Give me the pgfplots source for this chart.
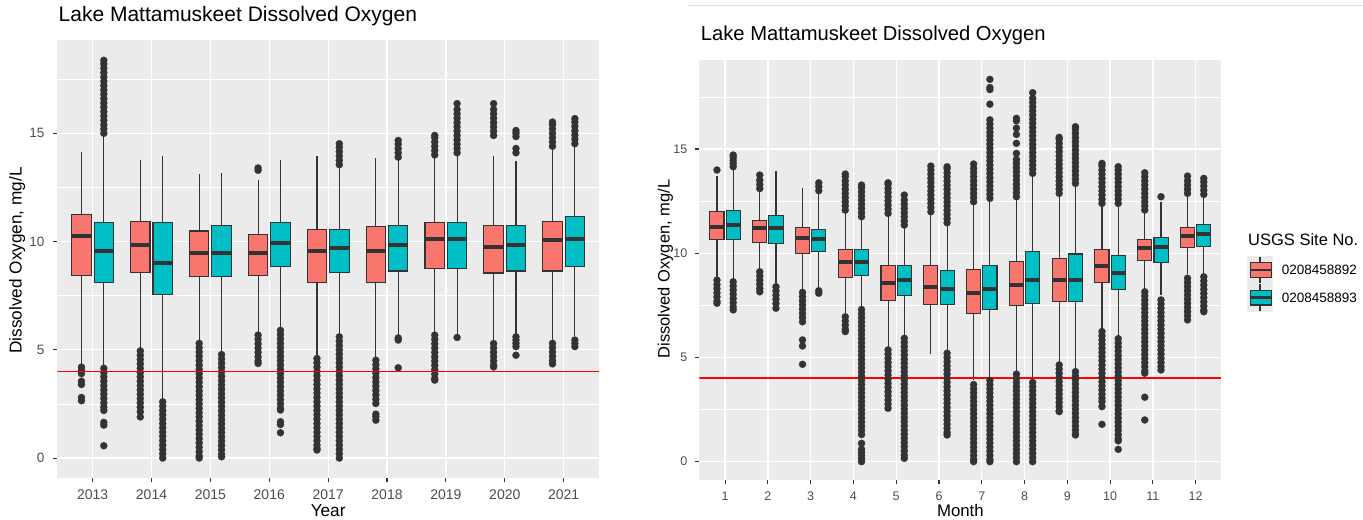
\documentclass[border=0pt]{standalone}
\usepackage{pgfplots}
\pgfplotsset{compat=1.18}
\usepgfplotslibrary{statistics}
\usepackage{fontspec}
\setmainfont{Liberation Sans}
\definecolor{cred}{HTML}{F8766D}
\definecolor{cteal}{HTML}{00BFC4}
\definecolor{cline}{HTML}{FF0000}
\definecolor{gtwenty}{HTML}{333333}
\definecolor{gthirty}{HTML}{4D4D4D}
\definecolor{gbg}{HTML}{EBEBEB}
\definecolor{gline}{HTML}{E2E2E2}
\newcommand{\fsz}[1]{\fontsize{#1}{#1}\selectfont}
\pgfplotsset{
  panel/.style={scale only axis, axis background/.style={fill=gbg}, axis line style={draw=none},
    xmajorgrids, ymajorgrids, yminorgrids,
    major grid style={white,line width=1.3bp}, minor grid style={white,line width=0.6bp},
    ytick={0,5,10,15}, minor ytick={2.5,7.5,12.5,17.5},
    tick align=outside, tick pos=left, major tick length=4.5bp, minor tick length=0pt,
    tick style={gtwenty,line width=1.1bp},
    /pgf/number format/assume math mode=true},
  bp/.style={draw=gtwenty, line width=1.1bp, mark=*, mark size=3.6bp,
    mark options={draw=gtwenty, fill=gtwenty, line width=0.1bp},
    boxplot/draw direction=y,
    boxplot/box extend=0.33, boxplot/whisker extend=0,
    boxplot/every median/.style={line width=4bp}},
  rb/.style={bp, fill=cred},
  tb/.style={bp, fill=cteal},
  limit/.style={draw=cline, line width=1.6bp, mark=none, forget plot},
}
\begin{document}
\begin{tikzpicture}[x=1bp,y=1bp]
\useasboundingbox (0,0) rectangle (1363,520);
\draw[gline,line width=0.8bp] (688,514.5)--(1363,514.5);
% ---------------- LEFT: by year ----------------
\begin{axis}[panel, at={(57.3bp,42bp)}, anchor=south west, width=541.7bp, height=438bp,
  xmin=0.4, xmax=9.6, ymin=-0.92, ymax=19.31,
  xtick={1,2,3,4,5,6,7,8,9}, xticklabels={2013,2014,2015,2016,2017,2018,2019,2020,2021},
  xticklabel style={font=\fsz{14bp}, text=gthirty, yshift=-4bp},
  yticklabel style={font=\fsz{13.5bp}, text=gthirty, xshift=-5bp},
  title={Lake Mattamuskeet Dissolved Oxygen},
  title style={at={(axis description cs:0.0022,1.029)}, anchor=base west, font=\fsz{21bp}, inner sep=0pt},
  xlabel={Year}, xlabel style={at={(axis description cs:0.5,-0.089)}, anchor=base, font=\fsz{17.2bp}, inner sep=0pt},
  ylabel={Dissolved Oxygen, mg/L}, ylabel style={at={(axis description cs:-0.0657,0.4966)}, anchor=base, font=\fsz{17.2bp}, inner sep=0pt},
]
\addplot[rb, boxplot prepared={draw position=0.81, lower whisker=4.3, lower quartile=8.44, median=10.24, upper quartile=11.27, upper whisker=14.13}]
 coordinates {(0,4.2)(0,4.05)(0,3.9)(0,3.55)(0,3.4)(0,2.8)(0,2.65)};
\addplot[tb, boxplot prepared={draw position=1.19, lower whisker=4.25, lower quartile=8.11, median=9.57, upper quartile=10.88, upper whisker=14.95}]
 coordinates {(0,15.0)(0,15.2)(0,15.4)(0,15.6)(0,15.8)(0,16.0)(0,16.2)(0,16.4)(0,16.6)(0,16.8)(0,17.0)(0,17.2)(0,17.4)(0,17.6)(0,17.8)(0,18.0)(0,18.2)(0,18.37)
 (0,4.15)(0,3.95)(0,3.75)(0,3.55)(0,3.35)(0,3.15)(0,2.95)(0,2.75)(0,2.55)(0,2.35)(0,2.2)(0,1.65)(0,1.52)(0,0.57)};
\addplot[rb, boxplot prepared={draw position=1.81, lower whisker=5.05, lower quartile=8.57, median=9.86, upper quartile=10.94, upper whisker=13.75}]
 coordinates {(0,4.95)(0,4.75)(0,4.55)(0,4.35)(0,4.15)(0,3.95)(0,3.75)(0,3.55)(0,3.35)(0,3.15)(0,2.95)(0,2.75)(0,2.55)(0,2.35)(0,2.14)(0,1.9)};
\addplot[tb, boxplot prepared={draw position=2.19, lower whisker=2.7, lower quartile=7.55, median=9.03, upper quartile=10.88, upper whisker=13.95}]
 coordinates {(0,2.6)(0,2.4)(0,2.2)(0,2.0)(0,1.8)(0,1.6)(0,1.4)(0,1.2)(0,1.0)(0,0.8)(0,0.6)(0,0.4)(0,0.2)(0,0.0)};
\addplot[rb, boxplot prepared={draw position=2.81, lower whisker=5.35, lower quartile=8.40, median=9.47, upper quartile=10.49, upper whisker=13.14}]
 coordinates {(0,5.3)(0,5.1)(0,4.9)(0,4.7)(0,4.5)(0,4.3)(0,4.1)(0,3.9)(0,3.7)(0,3.5)(0,3.3)(0,3.1)(0,2.9)(0,2.7)(0,2.5)(0,2.3)(0,2.1)(0,1.9)(0,1.7)(0,1.5)(0,1.3)(0,1.1)(0,0.9)(0,0.7)(0,0.5)(0,0.3)(0,0.1)(0,0.0)};
\addplot[tb, boxplot prepared={draw position=3.19, lower whisker=4.85, lower quartile=8.40, median=9.47, upper quartile=10.73, upper whisker=13.17}]
 coordinates {(0,4.78)(0,4.58)(0,4.38)(0,4.18)(0,3.98)(0,3.78)(0,3.58)(0,3.38)(0,3.18)(0,2.98)(0,2.78)(0,2.58)(0,2.38)(0,2.18)(0,1.98)(0,1.78)(0,1.58)(0,1.38)(0,1.18)(0,0.98)(0,0.78)(0,0.58)(0,0.38)(0,0.18)(0,0.06)};
\addplot[rb, boxplot prepared={draw position=3.81, lower whisker=5.75, lower quartile=8.44, median=9.47, upper quartile=10.34, upper whisker=12.86}]
 coordinates {(0,13.29)(0,13.4)(0,5.68)(0,5.48)(0,5.28)(0,5.08)(0,4.88)(0,4.68)(0,4.48)(0,4.37)};
\addplot[tb, boxplot prepared={draw position=4.19, lower whisker=6.0, lower quartile=8.83, median=9.95, upper quartile=10.88, upper whisker=13.75}]
 coordinates {(0,5.9)(0,5.7)(0,5.5)(0,5.3)(0,5.1)(0,4.9)(0,4.7)(0,4.5)(0,4.3)(0,4.1)(0,3.9)(0,3.7)(0,3.5)(0,3.3)(0,3.1)(0,2.9)(0,2.7)(0,2.5)(0,2.3)(0,2.22)(0,1.68)(0,1.55)(0,1.17)};
\addplot[rb, boxplot prepared={draw position=4.81, lower whisker=4.7, lower quartile=8.11, median=9.57, upper quartile=10.55, upper whisker=13.95}]
 coordinates {(0,4.6)(0,4.4)(0,4.2)(0,4.0)(0,3.8)(0,3.6)(0,3.4)(0,3.2)(0,3.0)(0,2.8)(0,2.6)(0,2.4)(0,2.2)(0,2.0)(0,1.8)(0,1.6)(0,1.4)(0,1.2)(0,1.0)(0,0.8)(0,0.6)(0,0.45)(0,0.37)};
\addplot[tb, boxplot prepared={draw position=5.19, lower whisker=5.7, lower quartile=8.57, median=9.68, upper quartile=10.55, upper whisker=13.45}]
 coordinates {(0,13.55)(0,13.75)(0,13.95)(0,14.15)(0,14.35)(0,14.52)
 (0,5.6)(0,5.4)(0,5.2)(0,5.0)(0,4.8)(0,4.6)(0,4.4)(0,4.2)(0,4.0)(0,3.8)(0,3.6)(0,3.4)(0,3.2)(0,3.0)(0,2.8)(0,2.6)(0,2.4)(0,2.2)(0,2.0)(0,1.8)(0,1.6)(0,1.4)(0,1.2)(0,1.0)(0,0.8)(0,0.6)(0,0.4)(0,0.2)(0,0.0)};
\addplot[rb, boxplot prepared={draw position=5.81, lower whisker=4.6, lower quartile=8.11, median=9.57, upper quartile=10.68, upper whisker=13.87}]
 coordinates {(0,4.52)(0,4.32)(0,4.12)(0,3.92)(0,3.72)(0,3.52)(0,3.32)(0,3.12)(0,2.92)(0,2.72)(0,2.52)(0,2.03)(0,1.91)(0,1.75)};
\addplot[tb, boxplot prepared={draw position=6.19, lower whisker=5.7, lower quartile=8.64, median=9.86, upper quartile=10.73, upper whisker=13.78}]
 coordinates {(0,13.9)(0,14.1)(0,14.3)(0,14.5)(0,14.67)(0,5.55)(0,5.45)(0,4.17)};
\addplot[rb, boxplot prepared={draw position=6.81, lower whisker=5.8, lower quartile=8.75, median=10.12, upper quartile=10.88, upper whisker=13.9}]
 coordinates {(0,14.0)(0,14.2)(0,14.4)(0,14.6)(0,14.8)(0,14.9)
 (0,5.68)(0,5.48)(0,5.28)(0,5.08)(0,4.88)(0,4.68)(0,4.48)(0,4.28)(0,4.08)(0,3.88)(0,3.68)(0,3.6)};
\addplot[tb, boxplot prepared={draw position=7.19, lower whisker=5.7, lower quartile=8.75, median=10.12, upper quartile=10.88, upper whisker=14.0}]
 coordinates {(0,14.1)(0,14.3)(0,14.5)(0,14.7)(0,14.9)(0,15.1)(0,15.3)(0,15.5)(0,15.7)(0,15.9)(0,16.1)(0,16.37)(0,5.57)};
\addplot[rb, boxplot prepared={draw position=7.81, lower whisker=5.35, lower quartile=8.55, median=9.75, upper quartile=10.73, upper whisker=13.95}]
 coordinates {(0,14.9)(0,15.1)(0,15.3)(0,15.5)(0,15.7)(0,15.9)(0,16.1)(0,16.37)
 (0,5.29)(0,5.09)(0,4.89)(0,4.69)(0,4.49)(0,4.29)(0,4.21)};
\addplot[tb, boxplot prepared={draw position=8.19, lower whisker=5.75, lower quartile=8.64, median=9.86, upper quartile=10.73, upper whisker=13.72}]
 coordinates {(0,14.1)(0,14.3)(0,14.85)(0,15.0)(0,15.13)(0,5.6)(0,5.45)(0,5.3)(0,5.15)(0,4.75)};
\addplot[rb, boxplot prepared={draw position=8.81, lower whisker=5.4, lower quartile=8.64, median=10.06, upper quartile=10.94, upper whisker=14.3}]
 coordinates {(0,14.4)(0,14.6)(0,14.8)(0,15.0)(0,15.2)(0,15.4)(0,15.52)(0,5.3)(0,5.1)(0,4.9)(0,4.7)(0,4.5)(0,4.35)};
\addplot[tb, boxplot prepared={draw position=9.19, lower whisker=5.65, lower quartile=8.83, median=10.14, upper quartile=11.14, upper whisker=14.4}]
 coordinates {(0,14.52)(0,14.72)(0,14.92)(0,15.12)(0,15.32)(0,15.52)(0,15.68)(0,5.45)(0,5.3)(0,5.15)};
\end{axis}
% ---------------- RIGHT: by month ----------------
\begin{axis}[panel, at={(699.4bp,40bp)}, anchor=south west, width=521.9bp, height=420bp,
  xmin=0.4, xmax=12.6, ymin=-0.88, ymax=19.27,
  xtick={1,2,3,4,5,6,7,8,9,10,11,12},
  xticklabel style={font=\fsz{12.5bp}, text=gthirty, yshift=-4bp},
  yticklabel style={font=\fsz{12.5bp}, text=gthirty, xshift=-4bp},
  title={Lake Mattamuskeet Dissolved Oxygen},
  title style={at={(axis description cs:0.0025,1.032)}, anchor=base west, font=\fsz{20.2bp}, inner sep=0pt},
  xlabel={Month}, xlabel style={at={(axis description cs:0.5,-0.088)}, anchor=base, font=\fsz{16.8bp}, inner sep=0pt},
  ylabel={Dissolved Oxygen, mg/L}, ylabel style={at={(axis description cs:-0.0573,0.502)}, anchor=base, font=\fsz{16.5bp}, inner sep=0pt},
]
\addplot[rb, boxplot prepared={draw position=0.81, lower whisker=8.8, lower quartile=10.67, median=11.27, upper quartile=11.99, upper whisker=13.7}]
 coordinates {(0,13.99)(0,8.71)(0,8.5)(0,8.3)(0,8.1)(0,7.9)(0,7.7)(0,7.6)};
\addplot[tb, boxplot prepared={draw position=1.19, lower whisker=8.7, lower quartile=10.67, median=11.35, upper quartile=12.04, upper whisker=14.0}]
 coordinates {(0,14.15)(0,14.3)(0,14.45)(0,14.6)(0,14.71)(0,8.63)(0,8.43)(0,8.23)(0,8.03)(0,7.83)(0,7.63)(0,7.43)(0,7.28)};
\addplot[rb, boxplot prepared={draw position=1.81, lower whisker=9.2, lower quartile=10.5, median=11.19, upper quartile=11.59, upper whisker=12.95}]
 coordinates {(0,13.1)(0,13.3)(0,13.5)(0,13.75)(0,9.11)(0,8.91)(0,8.71)(0,8.51)(0,8.31)(0,8.15)};
\addplot[tb, boxplot prepared={draw position=2.19, lower whisker=8.45, lower quartile=10.47, median=11.19, upper quartile=11.83, upper whisker=13.96}]
 coordinates {(0,8.39)(0,8.19)(0,7.99)(0,7.79)(0,7.59)(0,7.36)};
\addplot[rb, boxplot prepared={draw position=2.81, lower whisker=8.2, lower quartile=9.99, median=10.71, upper quartile=11.24, upper whisker=13.11}]
 coordinates {(0,8.12)(0,7.92)(0,7.72)(0,7.52)(0,7.32)(0,7.12)(0,6.92)(0,6.71)(0,5.84)(0,5.55)(0,4.67)};
\addplot[tb, boxplot prepared={draw position=3.19, lower whisker=8.3, lower quartile=10.07, median=10.68, upper quartile=11.15, upper whisker=12.85}]
 coordinates {(0,13.0)(0,13.2)(0,13.38)(0,8.2)(0,8.08)};
\addplot[rb, boxplot prepared={draw position=3.81, lower whisker=7.1, lower quartile=8.84, median=9.59, upper quartile=10.19, upper whisker=11.95}]
 coordinates {(0,12.07)(0,12.27)(0,12.47)(0,12.67)(0,12.87)(0,13.07)(0,13.27)(0,13.47)(0,13.67)(0,13.8)(0,6.95)(0,6.75)(0,6.55)(0,6.35)(0,6.24)};
\addplot[tb, boxplot prepared={draw position=4.19, lower whisker=7.4, lower quartile=8.95, median=9.59, upper quartile=10.19, upper whisker=11.65}]
 coordinates {(0,11.75)(0,11.95)(0,12.15)(0,12.35)(0,12.55)(0,12.75)(0,12.95)(0,13.15)(0,13.27)
 (0,7.3)(0,7.1)(0,6.9)(0,6.7)(0,6.5)(0,6.3)(0,6.1)(0,5.9)(0,5.7)(0,5.5)(0,5.3)(0,5.1)(0,4.9)(0,4.7)(0,4.5)(0,4.3)(0,4.1)(0,3.9)(0,3.7)(0,3.5)(0,3.3)(0,3.1)(0,2.9)(0,2.7)(0,2.5)(0,2.3)(0,2.1)(0,1.9)(0,1.7)(0,1.5)(0,1.3)(0,0.88)(0,0.6)(0,0.45)(0,0.3)(0,0.15)(0,0.0)};
\addplot[rb, boxplot prepared={draw position=4.81, lower whisker=5.45, lower quartile=7.72, median=8.59, upper quartile=9.43, upper whisker=11.8}]
 coordinates {(0,11.91)(0,12.11)(0,12.31)(0,12.51)(0,12.71)(0,12.91)(0,13.11)(0,13.31)(0,13.38)
 (0,5.36)(0,5.16)(0,4.96)(0,4.76)(0,4.56)(0,4.36)(0,4.16)(0,3.96)(0,3.76)(0,3.56)(0,3.36)(0,3.16)(0,2.96)(0,2.76)(0,2.56)};
\addplot[tb, boxplot prepared={draw position=5.19, lower whisker=6.0, lower quartile=7.95, median=8.72, upper quartile=9.39, upper whisker=11.25}]
 coordinates {(0,11.35)(0,11.55)(0,11.75)(0,11.95)(0,12.15)(0,12.35)(0,12.55)(0,12.79)
 (0,5.92)(0,5.72)(0,5.52)(0,5.32)(0,5.12)(0,4.92)(0,4.72)(0,4.52)(0,4.32)(0,4.12)(0,3.92)(0,3.72)(0,3.52)(0,3.32)(0,3.12)(0,2.92)(0,2.72)(0,2.52)(0,2.32)(0,2.12)(0,1.92)(0,1.72)(0,1.52)(0,1.32)(0,1.12)(0,0.92)(0,0.72)(0,0.52)(0,0.32)(0,0.16)};
\addplot[rb, boxplot prepared={draw position=5.81, lower whisker=5.15, lower quartile=7.55, median=8.36, upper quartile=9.39, upper whisker=11.9}]
 coordinates {(0,11.99)(0,12.19)(0,12.39)(0,12.59)(0,12.79)(0,12.99)(0,13.19)(0,13.39)(0,13.59)(0,13.79)(0,13.99)(0,14.18)};
\addplot[tb, boxplot prepared={draw position=6.19, lower whisker=5.3, lower quartile=7.55, median=8.28, upper quartile=9.19, upper whisker=11.35}]
 coordinates {(0,11.46)(0,11.66)(0,11.86)(0,12.06)(0,12.26)(0,12.46)(0,12.66)(0,12.86)(0,13.06)(0,13.26)(0,13.46)(0,13.66)(0,13.86)(0,14.06)(0,14.15)
 (0,5.2)(0,5.0)(0,4.8)(0,4.6)(0,4.4)(0,4.2)(0,4.0)(0,3.8)(0,3.6)(0,3.4)(0,3.2)(0,3.0)(0,2.8)(0,2.6)(0,2.4)(0,2.2)(0,2.0)(0,1.8)(0,1.6)(0,1.4)(0,1.28)};
\addplot[rb, boxplot prepared={draw position=6.81, lower whisker=3.9, lower quartile=7.12, median=8.11, upper quartile=9.23, upper whisker=12.35}]
 coordinates {(0,12.47)(0,12.67)(0,12.87)(0,13.07)(0,13.27)(0,13.47)(0,13.67)(0,13.87)(0,14.07)(0,14.28)
 (0,3.7)(0,3.5)(0,3.3)(0,3.1)(0,2.9)(0,2.7)(0,2.5)(0,2.3)(0,2.1)(0,1.9)(0,1.7)(0,1.5)(0,1.3)(0,1.1)(0,0.9)(0,0.7)(0,0.5)(0,0.3)(0,0.1)(0,0.0)};
\addplot[tb, boxplot prepared={draw position=7.19, lower whisker=4.0, lower quartile=7.28, median=8.28, upper quartile=9.43, upper whisker=12.55}]
 coordinates {(0,12.63)(0,12.83)(0,13.03)(0,13.23)(0,13.43)(0,13.63)(0,13.83)(0,14.03)(0,14.23)(0,14.43)(0,14.63)(0,14.83)(0,15.03)(0,15.23)(0,15.43)(0,15.63)(0,15.8)(0,16.0)(0,16.2)(0,16.4)(0,17.15)(0,17.85)(0,17.95)(0,18.34)
 (0,3.9)(0,3.7)(0,3.5)(0,3.3)(0,3.1)(0,2.9)(0,2.7)(0,2.5)(0,2.3)(0,2.1)(0,1.9)(0,1.7)(0,1.5)(0,1.3)(0,1.1)(0,0.9)(0,0.7)(0,0.5)(0,0.3)(0,0.1)(0,0.0)};
\addplot[rb, boxplot prepared={draw position=7.81, lower whisker=4.3, lower quartile=7.47, median=8.47, upper quartile=9.59, upper whisker=12.6}]
 coordinates {(0,12.71)(0,12.91)(0,13.11)(0,13.31)(0,13.51)(0,13.71)(0,13.91)(0,14.11)(0,14.31)(0,14.5)(0,14.79)(0,15.27)(0,15.7)(0,16.0)(0,16.35)(0,16.47)
 (0,4.2)(0,4.0)(0,3.8)(0,3.6)(0,3.4)(0,3.2)(0,3.0)(0,2.8)(0,2.6)(0,2.4)(0,2.2)(0,2.0)(0,1.8)(0,1.6)(0,1.4)(0,1.2)(0,1.0)(0,0.8)(0,0.6)(0,0.4)(0,0.2)(0,0.0)};
\addplot[tb, boxplot prepared={draw position=8.19, lower whisker=3.95, lower quartile=7.6, median=8.72, upper quartile=10.07, upper whisker=13.7}]
 coordinates {(0,13.83)(0,14.03)(0,14.23)(0,14.43)(0,14.63)(0,14.83)(0,15.03)(0,15.23)(0,15.43)(0,15.63)(0,15.83)(0,16.03)(0,16.23)(0,16.43)(0,16.63)(0,16.83)(0,17.03)(0,17.23)(0,17.43)(0,17.7)
 (0,3.8)(0,3.6)(0,3.4)(0,3.2)(0,3.0)(0,2.8)(0,2.6)(0,2.4)(0,2.2)(0,2.0)(0,1.8)(0,1.6)(0,1.4)(0,1.2)(0,1.0)(0,0.8)(0,0.6)(0,0.4)(0,0.2)(0,0.0)};
\addplot[rb, boxplot prepared={draw position=8.81, lower whisker=4.7, lower quartile=7.67, median=8.72, upper quartile=9.75, upper whisker=12.75}]
 coordinates {(0,12.87)(0,13.07)(0,13.27)(0,13.47)(0,13.67)(0,13.87)(0,14.07)(0,14.27)(0,14.47)(0,14.67)(0,14.87)(0,15.07)(0,15.27)(0,15.47)(0,15.56)
 (0,4.64)(0,4.44)(0,4.24)(0,4.04)(0,3.84)(0,3.64)(0,3.44)(0,3.24)(0,3.04)(0,2.84)(0,2.64)(0,2.44)(0,2.4)};
\addplot[tb, boxplot prepared={draw position=9.19, lower whisker=4.4, lower quartile=7.67, median=8.72, upper quartile=9.96, upper whisker=13.2}]
 coordinates {(0,13.35)(0,13.55)(0,13.75)(0,13.95)(0,14.15)(0,14.35)(0,14.55)(0,14.75)(0,14.95)(0,15.15)(0,15.35)(0,15.55)(0,15.75)(0,15.95)(0,16.07)
 (0,4.32)(0,4.12)(0,3.92)(0,3.72)(0,3.52)(0,3.32)(0,3.12)(0,2.92)(0,2.72)(0,2.52)(0,2.32)(0,2.12)(0,1.92)(0,1.72)(0,1.52)(0,1.32)(0,1.28)};
\addplot[rb, boxplot prepared={draw position=9.81, lower whisker=6.35, lower quartile=8.59, median=9.4, upper quartile=10.19, upper whisker=12.3}]
 coordinates {(0,12.39)(0,12.59)(0,12.79)(0,12.99)(0,13.19)(0,13.39)(0,13.59)(0,13.79)(0,13.99)(0,14.19)(0,14.31)
 (0,6.24)(0,6.04)(0,5.84)(0,5.64)(0,5.44)(0,5.24)(0,5.04)(0,4.84)(0,4.64)(0,4.44)(0,4.24)(0,4.04)(0,3.84)(0,3.64)(0,3.44)(0,3.24)(0,3.04)(0,2.88)(0,2.64)(0,1.79)};
\addplot[tb, boxplot prepared={draw position=10.19, lower whisker=6.0, lower quartile=8.27, median=9.07, upper quartile=9.91, upper whisker=12.2}]
 coordinates {(0,12.39)(0,12.59)(0,12.79)(0,12.99)(0,13.19)(0,13.39)(0,13.59)(0,13.79)(0,13.99)(0,14.15)
 (0,5.9)(0,5.7)(0,5.5)(0,5.3)(0,5.1)(0,4.9)(0,4.7)(0,4.5)(0,4.3)(0,4.1)(0,3.9)(0,3.7)(0,3.5)(0,3.3)(0,3.1)(0,2.9)(0,2.7)(0,2.5)(0,2.3)(0,2.1)(0,1.9)(0,1.7)(0,1.5)(0,1.3)(0,1.1)(0,1.0)(0,0.59)};
\addplot[rb, boxplot prepared={draw position=10.81, lower whisker=8.3, lower quartile=9.67, median=10.24, upper quartile=10.67, upper whisker=12.0}]
 coordinates {(0,12.07)(0,12.27)(0,12.47)(0,12.67)(0,12.87)(0,13.07)(0,13.27)(0,13.47)(0,13.67)(0,13.86)
 (0,8.15)(0,7.95)(0,7.75)(0,7.55)(0,7.35)(0,7.15)(0,6.95)(0,6.75)(0,6.55)(0,6.35)(0,6.15)(0,5.95)(0,5.75)(0,5.55)(0,5.35)(0,5.15)(0,4.95)(0,4.75)(0,4.55)(0,4.35)(0,4.24)(0,3.09)(0,2.0)};
\addplot[tb, boxplot prepared={draw position=11.19, lower whisker=8.0, lower quartile=9.55, median=10.28, upper quartile=10.76, upper whisker=12.45}]
 coordinates {(0,12.71)(0,7.76)(0,7.56)(0,7.36)(0,7.16)(0,6.96)(0,6.76)(0,6.56)(0,6.36)(0,6.16)(0,5.96)(0,5.76)(0,5.56)(0,5.36)(0,5.16)(0,4.96)(0,4.76)(0,4.56)(0,4.4)};
\addplot[rb, boxplot prepared={draw position=11.81, lower whisker=9.0, lower quartile=10.28, median=10.83, upper quartile=11.22, upper whisker=12.8}]
 coordinates {(0,12.87)(0,13.07)(0,13.27)(0,13.47)(0,13.7)(0,8.8)(0,8.6)(0,8.4)(0,8.2)(0,8.0)(0,7.8)(0,7.6)(0,7.4)(0,7.2)(0,7.0)(0,6.8)};
\addplot[tb, boxplot prepared={draw position=12.19, lower whisker=9.0, lower quartile=10.31, median=10.91, upper quartile=11.39, upper whisker=12.75}]
 coordinates {(0,12.82)(0,13.02)(0,13.22)(0,13.42)(0,13.59)(0,8.87)(0,8.67)(0,8.47)(0,8.27)(0,8.07)(0,7.87)(0,7.67)(0,7.47)(0,7.27)(0,7.19)};
\addplot[limit] coordinates {(0.4,4) (12.6,4)};
\end{axis}
% ---------------- legend ----------------
\node[anchor=base west, inner sep=0pt] at (1248,274.3) {\fsz{16.5bp}USGS Site No.};
\fill[gbg] (1246.7,208.3) rectangle (1273.3,264);
\draw[gtwenty,line width=1.1bp] (1260,236.7)--(1260,263.3);
\filldraw[fill=cred,draw=gtwenty,line width=1.1bp] (1250.7,242.7) rectangle (1271.7,257.3);
\draw[gtwenty,line width=2.5bp] (1250.7,250)--(1271.7,250);
\draw[gtwenty,line width=1.1bp] (1260,209)--(1260,235.6);
\filldraw[fill=cteal,draw=gtwenty,line width=1.1bp] (1250.7,215) rectangle (1271.7,229.6);
\draw[gtwenty,line width=2.5bp] (1250.7,222.3)--(1271.7,222.3);
\node[anchor=west, inner sep=0pt] at (1281.7,250) {\fsz{13.5bp}0208458892};
\node[anchor=west, inner sep=0pt] at (1281.7,222.3) {\fsz{13.5bp}0208458893};
% overlay axis (drawn last) carrying the left panel's 4 mg/L reference line
\begin{axis}[scale only axis, hide axis, at={(57.3bp,42bp)}, anchor=south west, width=541.7bp, height=438bp,
  xmin=0.4, xmax=9.6, ymin=-0.92, ymax=19.31]
\addplot[limit] coordinates {(0.4,4) (9.6,4)};
\end{axis}
\end{tikzpicture}
\end{document}
